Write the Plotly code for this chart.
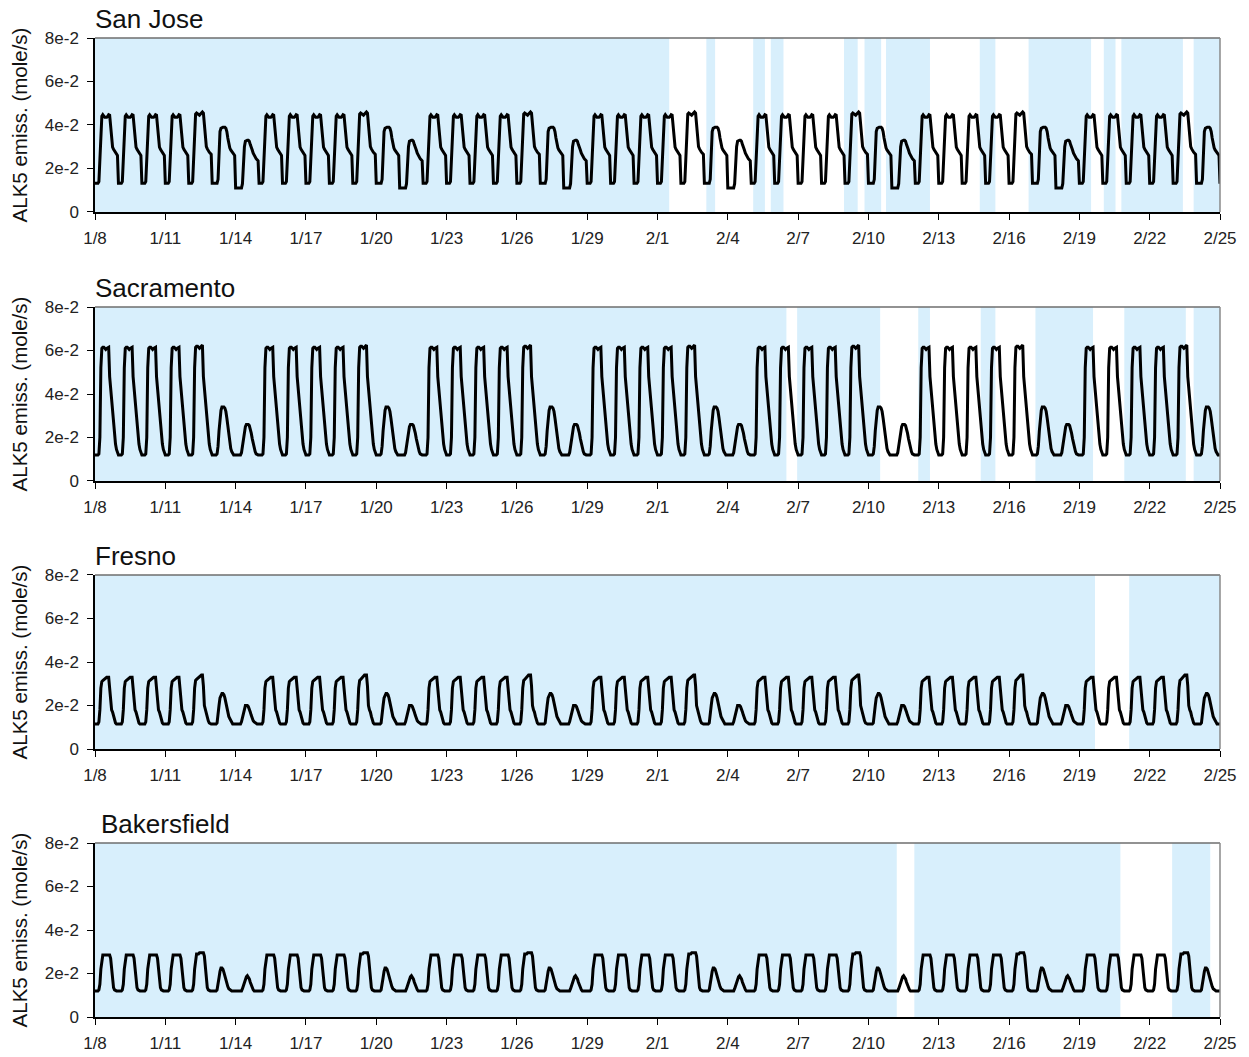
import pandas as pd
import plotly.graph_objects as go

# ---------------------------------------------------------------------------
# Data: hourly ALK5 emission profiles (mole/s), hour 0..23 of each day type
# ---------------------------------------------------------------------------
START = "2007-01-08"
END = "2007-02-25"

CITIES = ["San Jose", "Sacramento", "Fresno", "Bakersfield"]

SJ_WEEKDAY = [0.0132, 0.0132, 0.0132, 0.0132, 0.014, 0.024, 0.035, 0.044, 0.0447, 0.044, 0.0435, 0.0435,
              0.0435, 0.044, 0.0447, 0.0445, 0.038, 0.032, 0.0298, 0.0288, 0.028, 0.0273, 0.0266, 0.026]
SJ_FRIDAY = [0.0132, 0.0132, 0.0132, 0.0132, 0.014, 0.024, 0.035, 0.045, 0.0455, 0.045, 0.0445, 0.0445,
             0.045, 0.0455, 0.046, 0.0455, 0.039, 0.033, 0.030, 0.029, 0.028, 0.0275, 0.027, 0.0265]
SJ_SATURDAY = [0.0132, 0.0132, 0.0132, 0.0132, 0.0132, 0.0132, 0.015, 0.027, 0.037, 0.0385, 0.039, 0.039,
               0.039, 0.039, 0.0385, 0.037, 0.034, 0.0305, 0.0295, 0.0285, 0.0278, 0.027, 0.0264, 0.026]
SJ_SUNDAY = [0.011, 0.011, 0.011, 0.011, 0.011, 0.011, 0.011, 0.013, 0.022, 0.030, 0.0325, 0.033,
             0.033, 0.033, 0.0325, 0.031, 0.030, 0.0285, 0.027, 0.026, 0.025, 0.0245, 0.024, 0.0235]

SAC_WEEKDAY = [0.012, 0.012, 0.012, 0.012, 0.0125, 0.020, 0.052, 0.061, 0.0615, 0.0615, 0.061, 0.0605,
               0.061, 0.0615, 0.0615, 0.048, 0.043, 0.037, 0.031, 0.025, 0.0205, 0.017, 0.0145, 0.013]
SAC_FRIDAY = [0.012, 0.012, 0.012, 0.012, 0.0125, 0.020, 0.052, 0.0615, 0.062, 0.062, 0.0615, 0.061,
              0.0615, 0.062, 0.0625, 0.048, 0.043, 0.037, 0.031, 0.025, 0.0205, 0.017, 0.0145, 0.013]
SAC_SATURDAY = [0.012, 0.012, 0.012, 0.012, 0.012, 0.0125, 0.016, 0.023, 0.029, 0.0325, 0.034, 0.034,
                0.034, 0.0335, 0.032, 0.029, 0.025, 0.021, 0.0175, 0.015, 0.0135, 0.0125, 0.012, 0.012]
SAC_SUNDAY = [0.012, 0.012, 0.012, 0.012, 0.012, 0.012, 0.013, 0.016, 0.020, 0.023, 0.025, 0.026,
              0.026, 0.026, 0.0255, 0.024, 0.022, 0.0195, 0.017, 0.015, 0.0135, 0.0125, 0.012, 0.012]

FRE_WEEKDAY = [0.0115, 0.0115, 0.0115, 0.0115, 0.0125, 0.018, 0.028, 0.031, 0.0315, 0.032, 0.032, 0.0325,
               0.033, 0.033, 0.033, 0.028, 0.020, 0.018, 0.017, 0.015, 0.013, 0.012, 0.0115, 0.0115]
FRE_FRIDAY = [0.0115, 0.0115, 0.0115, 0.0115, 0.0125, 0.018, 0.028, 0.0315, 0.032, 0.0325, 0.033, 0.0335,
              0.034, 0.034, 0.034, 0.029, 0.020, 0.018, 0.017, 0.015, 0.013, 0.012, 0.0115, 0.0115]
FRE_SATURDAY = [0.0115, 0.0115, 0.0115, 0.0115, 0.0115, 0.012, 0.015, 0.020, 0.0235, 0.025, 0.0255, 0.0255,
                0.025, 0.0235, 0.021, 0.0185, 0.0165, 0.015, 0.014, 0.013, 0.012, 0.0115, 0.0115, 0.0115]
FRE_SUNDAY = [0.0115, 0.0115, 0.0115, 0.0115, 0.0115, 0.0115, 0.0125, 0.0145, 0.017, 0.019, 0.020, 0.020,
              0.020, 0.0195, 0.0185, 0.017, 0.0155, 0.014, 0.013, 0.0125, 0.012, 0.0115, 0.0115, 0.0115]

BAK_WEEKDAY = [0.012, 0.012, 0.012, 0.012, 0.0125, 0.015, 0.022, 0.027, 0.0285, 0.0285, 0.0285, 0.0285,
               0.0285, 0.0285, 0.0285, 0.0285, 0.027, 0.022, 0.016, 0.0135, 0.0125, 0.012, 0.012, 0.012]
BAK_FRIDAY = [0.012, 0.012, 0.012, 0.012, 0.0125, 0.015, 0.022, 0.0275, 0.029, 0.029, 0.029, 0.0295,
              0.0295, 0.0295, 0.0295, 0.0295, 0.028, 0.022, 0.016, 0.0135, 0.0125, 0.012, 0.012, 0.012]
BAK_SATURDAY = [0.012, 0.012, 0.012, 0.012, 0.012, 0.0125, 0.0145, 0.018, 0.021, 0.0225, 0.0225, 0.022,
                0.0205, 0.0185, 0.0165, 0.015, 0.014, 0.013, 0.0125, 0.012, 0.012, 0.012, 0.012, 0.012]
BAK_SUNDAY = [0.012, 0.012, 0.012, 0.012, 0.012, 0.012, 0.012, 0.013, 0.0145, 0.016, 0.0175, 0.0185,
              0.019, 0.0185, 0.0175, 0.016, 0.0145, 0.0135, 0.0125, 0.012, 0.012, 0.012, 0.012, 0.012]

# value at the closing instant (2/25 00:00) of each series
END_VALUES = [0.013, 0.012, 0.0115, 0.012]

# periods highlighted in light blue behind each series
SJ_SHADE = [("2007-01-08 00:00", "2007-02-01 12:00"), ("2007-02-03 02:00", "2007-02-03 11:00"),
            ("2007-02-05 02:00", "2007-02-05 14:00"), ("2007-02-05 20:00", "2007-02-06 09:00"),
            ("2007-02-08 23:00", "2007-02-09 13:00"), ("2007-02-09 20:00", "2007-02-10 13:00"),
            ("2007-02-10 18:00", "2007-02-12 15:00"), ("2007-02-14 18:00", "2007-02-15 10:00"),
            ("2007-02-16 20:00", "2007-02-19 12:00"), ("2007-02-20 01:00", "2007-02-20 13:00"),
            ("2007-02-20 19:00", "2007-02-23 10:00"), ("2007-02-23 21:00", "2007-02-25 00:00")]
SAC_SHADE = [("2007-01-08 00:00", "2007-02-06 12:00"), ("2007-02-06 23:00", "2007-02-10 12:00"),
             ("2007-02-12 03:00", "2007-02-12 15:00"), ("2007-02-14 19:00", "2007-02-15 10:00"),
             ("2007-02-17 03:00", "2007-02-19 14:00"), ("2007-02-20 22:00", "2007-02-23 13:00"),
             ("2007-02-23 21:00", "2007-02-25 00:00")]
FRE_SHADE = [("2007-01-08 00:00", "2007-02-19 16:00"), ("2007-02-21 03:00", "2007-02-25 00:00")]
BAK_SHADE = [("2007-01-08 00:00", "2007-02-11 05:00"), ("2007-02-11 23:00", "2007-02-20 18:00"),
             ("2007-02-22 23:00", "2007-02-24 14:00")]

Y_TICK_VALUES = [0, 0.02, 0.04, 0.06, 0.08]
Y_TICK_LABELS = ["0", "2e-2", "4e-2", "6e-2", "8e-2"]
Y_TITLE = "ALK5 emiss. (mole/s)"

# ---------------------------------------------------------------------------
PROFILES = {
    "San Jose": (SJ_WEEKDAY, SJ_FRIDAY, SJ_SATURDAY, SJ_SUNDAY),
    "Sacramento": (SAC_WEEKDAY, SAC_FRIDAY, SAC_SATURDAY, SAC_SUNDAY),
    "Fresno": (FRE_WEEKDAY, FRE_FRIDAY, FRE_SATURDAY, FRE_SUNDAY),
    "Bakersfield": (BAK_WEEKDAY, BAK_FRIDAY, BAK_SATURDAY, BAK_SUNDAY),
}
SHADES = {"San Jose": SJ_SHADE, "Sacramento": SAC_SHADE, "Fresno": FRE_SHADE, "Bakersfield": BAK_SHADE}
TITLE_XSHIFT = {"San Jose": -2, "Sacramento": -2, "Fresno": -2, "Bakersfield": 4}

days = pd.date_range(START, END, freq="D")[:-1]
x_ticks = pd.date_range(START, END, freq="3D")
x_tick_labels = [f"{d.month}/{d.day}" for d in x_ticks]

FONT = "Liberation Sans, Arial, sans-serif"
SHADE_COLOR = "#d8effc"

# vertical placement of the four panels (paper fractions, top to bottom)
DOMAINS = [(0.8223, 1.0), (0.5475, 0.7252), (0.2737, 0.4515), (0.0, 0.1777)]


def build_series(city, end_value):
    weekday, friday, saturday, sunday = PROFILES[city]
    xs, ys = [], []
    for d in days:
        dow = d.dayofweek
        prof = friday if dow == 4 else saturday if dow == 5 else sunday if dow == 6 else weekday
        for h, v in enumerate(prof):
            xs.append(d + pd.Timedelta(hours=h))
            ys.append(v)
    xs.append(pd.Timestamp(END))
    ys.append(end_value)
    return xs, ys


fig = go.Figure()
shapes, annotations = [], []

for i, city in enumerate(CITIES):
    suffix = "" if i == 0 else str(i + 1)
    xa, ya = f"x{suffix}", f"y{suffix}"
    xs, ys = build_series(city, END_VALUES[i])
    fig.add_trace(go.Scatter(x=xs, y=ys, mode="lines", xaxis=xa, yaxis=ya,
                             line=dict(color="black", width=3), showlegend=False,
                             hoverinfo="x+y"))

    for x0, x1 in SHADES[city]:
        shapes.append(dict(type="rect", xref=xa, yref=f"{ya} domain", x0=x0, x1=x1, y0=0, y1=1,
                           fillcolor=SHADE_COLOR, line=dict(width=0), layer="below"))
    # grey frame on top and right
    shapes.append(dict(type="line", xref=f"{xa} domain", yref=f"{ya} domain", x0=0, x1=1, y0=1, y1=1,
                       line=dict(color="#6e6e6e", width=1.5)))
    shapes.append(dict(type="line", xref=f"{xa} domain", yref=f"{ya} domain", x0=1, x1=1, y0=0, y1=1,
                       line=dict(color="#8a8a8a", width=1.5)))

    annotations.append(dict(text=city, xref="paper", yref="paper", x=0, y=DOMAINS[i][1],
                            xanchor="left", yanchor="bottom", showarrow=False,
                            xshift=TITLE_XSHIFT[city], yshift=2,
                            font=dict(family=FONT, size=26, color="#111111")))

    axis_common = dict(showgrid=False, zeroline=False, showline=True, linecolor="black", linewidth=1.5,
                       ticks="outside", ticklen=6, tickwidth=1.2, tickcolor="black", automargin=False,
                       tickfont=dict(family=FONT, size=17, color="#222222"))
    fig.update_layout(**{
        f"xaxis{suffix}": dict(domain=[0, 1], anchor=ya, type="date", range=[START, END],
                               tickmode="array", tickvals=list(x_ticks), ticktext=x_tick_labels,
                               ticklabelstandoff=4, **axis_common),
        f"yaxis{suffix}": dict(domain=list(DOMAINS[i]), anchor=xa, range=[0, 0.08],
                               tickmode="array", tickvals=Y_TICK_VALUES, ticktext=Y_TICK_LABELS,
                               ticklabelstandoff=5,
                               title=dict(text=Y_TITLE, standoff=12,
                                          font=dict(family=FONT, size=20.5, color="#111111")),
                               **axis_common),
    })

fig.update_layout(
    width=1249, height=1057,
    margin=dict(l=95, r=29, t=38, b=40),
    plot_bgcolor="white", paper_bgcolor="white",
    shapes=shapes, annotations=annotations,
    font=dict(family=FONT),
)

fig.write_html("out.html")
